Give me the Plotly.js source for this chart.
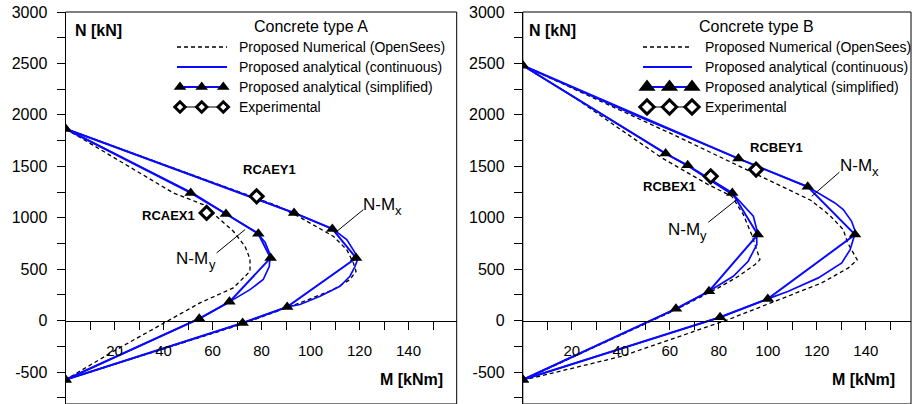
<!DOCTYPE html>
<html>
<head>
<meta charset="utf-8">
<script src="https://cdn.plot.ly/plotly-3.0.1.min.js"></script>
<style>
  html, body { margin: 0; padding: 0; background: #fff; }
  #chart { width: 912px; height: 404px; }
</style>
</head>
<body>
<div id="chart"></div>
<script>
// ---------- Concrete type A : interaction curves (M in kNm, N in kN) ----------
const aNumMyM = [0, 44, 56.2, 63, 68.5, 73.3, 75.3, 75.3, 68.5, 54.9, 41.3, 20.2, 0];
const aNumMyN = [1865, 1241, 1128, 982, 868, 722, 600, 479, 318, 172, -7, -290, -575];
const aNumMxM = [0, 40, 86, 96, 109.3, 114.8, 117.5, 118.6, 116.1, 109.3, 96, 72, 0];
const aNumMxN = [1865, 1515, 1120, 1000, 820, 690, 560, 479, 398, 301, 175, -35, -575];

const aConMyM = [0, 26, 52, 66, 78, 81.5, 83.5, 83.2, 80.7, 75.3, 68.5, 66.9, 54.6, 0];
const aConMyN = [1865, 1555, 1238, 1030, 858, 760, 642, 528, 399, 301, 204, 182, 19, -575];
const aConMxM = [0, 47, 93.5, 109, 114.8, 118.2, 119.3, 118.2, 116.1, 112.0, 103.9, 95.7, 90.5, 72.3, 0];
const aConMxN = [1865, 1452, 1045, 891, 788, 658, 600, 528, 431, 334, 236, 156, 133, -23, -575];

const aSimMyM = [0, 51.1, 65.5, 78.7, 83.7, 66.9, 54.6, 0];
const aSimMyN = [1865, 1241, 1037, 843, 609, 182, 19, -575];
const aSimMxM = [0, 93.3, 108.9, 118.6, 90.5, 72.3, 0];
const aSimMxN = [1865, 1047, 891, 609, 133, -23, -575];

const aExpM = [78, 57.6];
const aExpN = [1208, 1047];
const aExpNames = ['RCAEY1', 'RCAEX1'];

// ---------- Concrete type B ----------
const bNumMyM = [0, 20, 56.7, 75.7, 85.3, 90, 93.4, 96.8, 94.8, 88, 79.8, 76, 62, 30, 0];
const bNumMyN = [2480, 2186, 1582, 1322, 1209, 1031, 836, 593, 544, 431, 318, 272, 100, -250, -580];
const bNumMxM = [0, 30, 61.4, 117.5, 125, 130.8, 132.5, 136.5, 132.9, 122, 101.6, 83.9, 40.4, 0];
const bNumMxN = [2480, 2150, 1808, 1170, 1030, 885, 760, 590, 512, 366, 172, 10, -347, -580];

const bConMyM = [0, 30, 58.3, 67.3, 86.6, 94.1, 95.5, 95.5, 92.0, 85.9, 77.1, 76, 62.5, 0];
const bConMyN = [2480, 2040, 1624, 1505, 1209, 1014, 885, 739, 577, 431, 301, 285, 114, -575];
const bConMxM = [0, 44, 88, 116.3, 127.4, 130.8, 134.2, 135.8, 133.6, 130.2, 120.6, 108.4, 100, 80.5, 0];
const bConMxN = [2480, 2015, 1575, 1300, 1144, 1079, 965, 860, 690, 561, 415, 285, 211, 32, -575];

const bSimMyM = [0, 58.3, 67.3, 85.5, 95.9, 76.0, 62.5, 0];
const bSimMyN = [2480, 1624, 1510, 1241, 836, 285, 114, -575];
const bSimMxM = [0, 88.0, 116.3, 135.6, 100.0, 80.5, 0];
const bSimMxN = [2480, 1575, 1300, 836, 211, 32, -575];

const bExpM = [95.2, 76.7];
const bExpN = [1468, 1403];
const bExpNames = ['RCBEY1', 'RCBEX1'];

// ---------- axis ticks and legend texts ----------
const mTickVals = [20, 40, 60, 80, 100, 120, 140];
const mTickText = ['20', '40', '60', '80', '100', '120', '140'];
const mMinorVals = [10, 30, 50, 70, 90, 110, 130, 150];
const nTickVals = [-500, 0, 500, 1000, 1500, 2000, 2500, 3000];
const nTickText = ['-500', '0', '500', '1000', '1500', '2000', '2500', '3000'];
const nMinorVals = [-750, -250, 250, 750, 1250, 1750, 2250, 2750];
const legendNames = ['Proposed Numerical (OpenSees)', 'Proposed analytical (continuous)',
                     'Proposed analytical (simplified)', 'Experimental'];
const panelTitles = ['Concrete type A', 'Concrete type B'];

// ---------- geometry ----------
const W = 912, H = 404;
const FONT = 'Liberation Sans, Arial, Helvetica, sans-serif';
const BLUE = '#0a0aff';
const DASH = { color: '#000', width: 1.3, dash: '4px,3px' };
const N_RANGE = [-811, 3000];
const Y_DOM = [0, 1 - 12 / H];
const zeroPos = Y_DOM[0] + (0 - N_RANGE[0]) / (N_RANGE[1] - N_RANGE[0]) * (Y_DOM[1] - Y_DOM[0]);
const PX_PER_M = 2.45;
const panels = [
  { xa: 'x', ya: 'y', left: 65.5, right: 456.7 },
  { xa: 'x2', ya: 'y2', left: 522.8, right: 911 }
];

function dashed(M, N, xa, ya) {
  return { x: M, y: N, xaxis: xa, yaxis: ya, mode: 'lines', hoverinfo: 'skip',
           line: DASH, showlegend: false };
}
function cont(M, N, xa, ya) {
  return { x: M, y: N, xaxis: xa, yaxis: ya, mode: 'lines', hoverinfo: 'skip',
           line: { color: BLUE, width: 1.7 }, showlegend: false };
}
function simp(M, N, xa, ya, size) {
  return { x: M, y: N, xaxis: xa, yaxis: ya, mode: 'lines+markers', hoverinfo: 'skip',
           line: { color: BLUE, width: 2 },
           marker: { symbol: 'triangle-up', size: size, color: '#000' }, showlegend: false };
}
function expPts(M, N, xa, ya, size) {
  return { x: M, y: N, xaxis: xa, yaxis: ya, mode: 'markers', hoverinfo: 'skip',
           marker: { symbol: 'diamond', size: size, color: '#fff', line: { color: '#000', width: 3 } },
           showlegend: false };
}

const traces = [
  dashed(aNumMyM, aNumMyN, 'x', 'y'), dashed(aNumMxM, aNumMxN, 'x', 'y'),
  cont(aConMyM, aConMyN, 'x', 'y'), cont(aConMxM, aConMxN, 'x', 'y'),
  simp(aSimMyM, aSimMyN, 'x', 'y', 11), simp(aSimMxM, aSimMxN, 'x', 'y', 11),
  expPts(aExpM, aExpN, 'x', 'y', 10),
  dashed(bNumMyM, bNumMyN, 'x2', 'y2'), dashed(bNumMxM, bNumMxN, 'x2', 'y2'),
  cont(bConMyM, bConMyN, 'x2', 'y2'), cont(bConMxM, bConMxN, 'x2', 'y2'),
  simp(bSimMyM, bSimMyN, 'x2', 'y2', 11), simp(bSimMxM, bSimMxN, 'x2', 'y2', 11),
  expPts(bExpM, bExpN, 'x2', 'y2', 10)
];

// legend keys, laid out in pixel units on a hidden full-figure axis pair
const keyBoxes = [
  { x0: 177, x1: 227, marks: [180, 201.7, 223.3], text: 237, title: 311, tri: 11, dia: 8 },
  { x0: 643, x1: 692, marks: [647, 669.5, 692], text: 703, title: 756, tri: 15, dia: 11 }
];
const keyRows = [47, 67, 87, 107];
keyBoxes.forEach(k => {
  traces.push({ x: [k.x0, k.x1], y: [keyRows[0], keyRows[0]], xaxis: 'x5', yaxis: 'y5', mode: 'lines',
                hoverinfo: 'skip', showlegend: false, line: DASH });
  traces.push({ x: [k.x0, k.x1], y: [keyRows[1], keyRows[1]], xaxis: 'x5', yaxis: 'y5', mode: 'lines',
                hoverinfo: 'skip', showlegend: false, line: { color: BLUE, width: 2 } });
  traces.push({ x: k.marks, y: k.marks.map(() => keyRows[2]), xaxis: 'x5', yaxis: 'y5', mode: 'lines+markers',
                hoverinfo: 'skip', showlegend: false, line: { color: BLUE, width: 2 },
                marker: { symbol: 'triangle-up', size: k.tri, color: '#000' } });
  traces.push({ x: k.marks, y: k.marks.map(() => keyRows[3]), xaxis: 'x5', yaxis: 'y5', mode: 'lines+markers',
                hoverinfo: 'skip', showlegend: false, line: { color: '#000', width: 1.2 },
                marker: { symbol: 'diamond', size: k.dia, color: '#fff', line: { color: '#000', width: 3 } } });
});

function xAxis(p) {
  return {
    domain: [p.left / W, p.right / W], range: [0, (p.right - p.left) / PX_PER_M],
    anchor: 'free', position: zeroPos, showline: true, linecolor: '#000', linewidth: 1,
    ticks: 'outside', ticklen: 8, tickcolor: '#000', tickwidth: 1,
    tickmode: 'array', tickvals: mTickVals, ticktext: mTickText,
    minor: { tickmode: 'array', tickvals: mMinorVals, ticks: 'outside', ticklen: 8, tickcolor: '#000', tickwidth: 1, showgrid: false },
    tickfont: { family: FONT, size: 15, color: '#000' }, ticklabelstandoff: 8,
    showgrid: false, zeroline: false, fixedrange: true
  };
}
function yAxis(anchor) {
  return {
    domain: Y_DOM, range: N_RANGE, anchor: anchor, showline: true, linecolor: '#000', linewidth: 1,
    ticks: 'outside', ticklen: 8, tickcolor: '#000', tickwidth: 1,
    tickmode: 'array', tickvals: nTickVals, ticktext: nTickText,
    tickfont: { family: FONT, size: 16, color: '#000' }, ticklabelstandoff: 6,
    minor: { tickmode: 'array', tickvals: nMinorVals, ticks: 'outside', ticklen: 8, tickcolor: '#000', tickwidth: 1, showgrid: false },
    showgrid: false, zeroline: false, fixedrange: true
  };
}

const annotations = [];
const shapes = [];
function note(xref, yref, x, y, text, opts) {
  annotations.push(Object.assign({ xref: xref, yref: yref, x: x, y: y, text: text, showarrow: false,
    xanchor: 'left', yanchor: 'middle', font: { family: FONT, size: 14, color: '#000' } }, opts || {}));
}
const boldFont = (size) => ({ family: FONT, size: size, color: '#000', weight: 'bold' });

// frames, axis names, legend texts
panels.forEach((p, i) => {
  shapes.push({ type: 'rect', xref: p.xa + ' domain', yref: p.ya + ' domain', x0: 0, x1: 1, y0: 0, y1: 1,
                line: { color: '#000', width: 1 }, layer: 'above' });
  note(p.xa + ' domain', 'paper', (i === 0 ? 7 : 4.5) / (p.right - p.left), 1 - 31 / H, 'N [kN]',
       { font: boldFont(16) });
  note(p.xa + ' domain', 'paper', ((i === 0 ? 445 : 897) - p.left) / (p.right - p.left), 1 - 379 / H, 'M [kNm]',
       { xanchor: 'right', font: boldFont(16) });
  const k = keyBoxes[i];
  note('x5', 'y5', k.title, 26, panelTitles[i], { xanchor: 'center', font: { family: FONT, size: 16, color: '#000' } });
  legendNames.forEach((t, r) => note('x5', 'y5', k.text, keyRows[r], t));
});

// specimen labels next to the experimental points
note('x', 'y', 71.5, 1468, aExpNames[0], { font: boldFont(13) });
note('x', 'y', 53.8, 1024, aExpNames[1], { xanchor: 'right', font: boldFont(13) });
note('x2', 'y2', 92.0, 1682, bExpNames[0], { font: boldFont(13) });
note('x2', 'y2', 48.3, 1303, bExpNames[1], { font: boldFont(13) });

// branch names (N-M with a lowered axis letter) and their leader lines
const branchFont = { family: FONT, size: 17, color: '#000' };
const subFont = { family: FONT, size: 13, color: '#000' };
[
  ['x', 'y', 120.6, 1128, 'x'],
  ['x', 'y', 44.4, 603, 'y'],
  ['x2', 'y2', 128.5, 1507, 'x'],
  ['x2', 'y2', 58.4, 885, 'y']
].forEach(b => {
  note(b[0], b[1], b[2], b[3], 'N-M', { font: branchFont });
  note(b[0], b[1], b[2], b[3], b[4], { font: subFont, xshift: 32.5, yshift: -6 });
});
[
  ['x', 'y', 121.6, 1079, 110.0, 853],
  ['x', 'y', 61.7, 658, 73.3, 885],
  ['x2', 'y2', 129.2, 1442, 117.9, 1208],
  ['x2', 'y2', 75.7, 956, 87.3, 1176]
].forEach(s => shapes.push({ type: 'line', xref: s[0], yref: s[1], x0: s[2], y0: s[3], x1: s[4], y1: s[5],
                              line: { color: '#000', width: 1 } }));

const layout = {
  width: W, height: H, margin: { l: 0, r: 0, t: 0, b: 0 },
  paper_bgcolor: '#fff', plot_bgcolor: 'rgba(0,0,0,0)',
  font: { family: FONT, color: '#000' }, showlegend: false,
  xaxis: xAxis(panels[0]), yaxis: yAxis('x'),
  xaxis2: xAxis(panels[1]), yaxis2: yAxis('x2'),
  xaxis5: { domain: [0, 1], range: [0, W], anchor: 'y5', visible: false, fixedrange: true },
  yaxis5: { domain: [0, 1], range: [H, 0], anchor: 'x5', visible: false, fixedrange: true },
  annotations: annotations, shapes: shapes
};

Plotly.newPlot('chart', traces, layout, { staticPlot: true, displayModeBar: false });
</script>
</body>
</html>
